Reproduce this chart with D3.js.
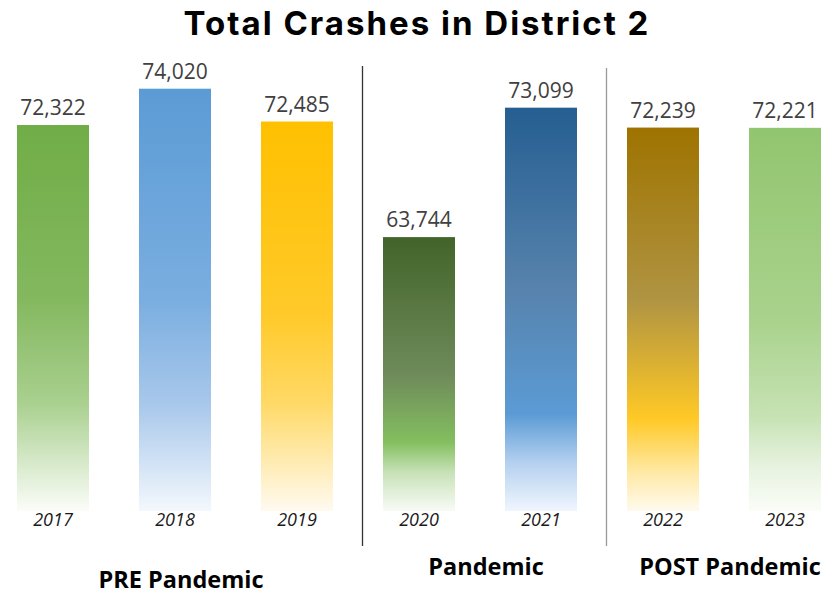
<!DOCTYPE html>
<html>
<head>
<meta charset="utf-8">
<script src="https://cdn.jsdelivr.net/npm/d3@7"></script>
<style>
  body { margin: 0; background: #fff; }
  svg { display: block; }
</style>
</head>
<body>
<div class="chart"></div>
<script>
// data
const years = ["2017", "2018", "2019", "2020", "2021", "2022", "2023"];
const crashes = [72322, 74020, 72485, 63744, 73099, 72239, 72221];
const yearPeriod = [0, 0, 0, 1, 1, 2, 2];
const periods = ["PRE Pandemic", "Pandemic", "POST Pandemic"];
// each period was its own excel chart with its own axis
const periodDomains = [[54270, 74020], [43950, 74470], [44610, 75040]];

const width = 839;
const height = 603;
const baseline = 511;
const barWidth = 72;

// gradient stops per bar, top -> bottom
const barStops = [
  [[0, "#70ad47"], [0.45, "#84b85f"], [0.72, "#a9d08f"], [1, "#fbfdf9"]],
  [[0, "#5b9bd5"], [0.5, "#7aaee0"], [0.75, "#a9c8eb"], [1, "#f3f8fd"]],
  [[0, "#ffc000"], [0.5, "#ffca2a"], [0.72, "#ffd966"], [1, "#fffaf0"]],
  [[0, "#426429"], [0.5, "#6e8a5a"], [0.75, "#84bf60"], [0.86, "#c8e2b8"], [1, "#f8fbf6"]],
  [[0, "#255e91"], [0.45, "#5783ad"], [0.76, "#5b9bd5"], [0.88, "#b4d0ef"], [1, "#f0f6fd"]],
  [[0, "#9e7300"], [0.45, "#b09442"], [0.76, "#ffc926"], [0.9, "#ffe9a6"], [1, "#fffaee"]],
  [[0, "#92c56f"], [0.5, "#a9d28c"], [0.75, "#c6e2b3"], [0.88, "#e6f2de"], [1, "#fafdf8"]]
];

const svg = d3.select(".chart").append("svg")
  .attr("width", width)
  .attr("height", height);

const x = d3.scalePoint()
  .domain(years)
  .range([53, 785]);

const yScales = periodDomains.map(d => d3.scaleLinear().domain(d).range([baseline, 88.7]));

/* gradients */
const defs = svg.append("defs");
years.forEach((yr, i) => {
  const g = defs.append("linearGradient")
    .attr("id", "grad" + yr)
    .attr("x1", 0).attr("y1", 0)
    .attr("x2", 0).attr("y2", 1);
  barStops[i].forEach(s => {
    g.append("stop").attr("offset", s[0]).attr("stop-color", s[1]);
  });
});

/* title */
svg.append("text")
  .attr("x", 417)
  .attr("y", 35)
  .attr("text-anchor", "middle")
  .style("font-family", "Inter, sans-serif")
  .style("font-weight", 700)
  .style("font-size", "33px")
  .style("letter-spacing", "2px")
  .attr("fill", "#000")
  .text("Total Crashes in District 2");

/* bars */
const bars = svg.append("g").attr("class", "bars")
  .selectAll("g")
  .data(years.map((yr, i) => ({ year: yr, value: crashes[i], period: yearPeriod[i] })))
  .enter().append("g");

bars.append("rect")
  .attr("x", d => x(d.year) - barWidth / 2)
  .attr("y", d => yScales[d.period](d.value))
  .attr("width", barWidth)
  .attr("height", d => baseline - yScales[d.period](d.value))
  .attr("fill", d => `url(#grad${d.year})`);

bars.append("text")
  .attr("x", d => x(d.year))
  .attr("y", d => yScales[d.period](d.value) - 10)
  .attr("text-anchor", "middle")
  .style("font-family", "'Open Sans', sans-serif")
  .style("font-size", "21px")
  .attr("fill", "#404040")
  .text(d => d3.format(",")(d.value));

bars.append("text")
  .attr("x", d => x(d.year))
  .attr("y", 526)
  .attr("text-anchor", "middle")
  .style("font-family", "'Open Sans', sans-serif")
  .style("font-style", "italic")
  .style("font-size", "18px")
  .attr("fill", "#1a1a1a")
  .text(d => d.year);

/* dividers between periods */
const dividers = [
  { a: "2019", b: "2020", top: 66, color: "#333" },
  { a: "2021", b: "2022", top: 68, color: "#999" }
];
svg.append("g").selectAll("line")
  .data(dividers).enter()
  .append("line")
  .attr("x1", d => (x(d.a) + x(d.b)) / 2 + 4.5)
  .attr("x2", d => (x(d.a) + x(d.b)) / 2 + 4.5)
  .attr("y1", d => d.top)
  .attr("y2", 546)
  .attr("stroke", d => d.color)
  .attr("stroke-width", 1.3);

/* period labels */
const labelY = [588, 575, 575];
svg.append("g").selectAll("text")
  .data(periods).enter()
  .append("text")
  .attr("x", (p, i) => d3.mean(years.filter((yr, j) => yearPeriod[j] === i), yr => x(yr)) + 6)
  .attr("y", (p, i) => labelY[i])
  .attr("text-anchor", "middle")
  .style("font-family", "'Open Sans', sans-serif")
  .style("font-weight", 700)
  .style("font-size", "23.5px")
  .attr("fill", "#000")
  .text(p => p);
</script>
</body>
</html>
